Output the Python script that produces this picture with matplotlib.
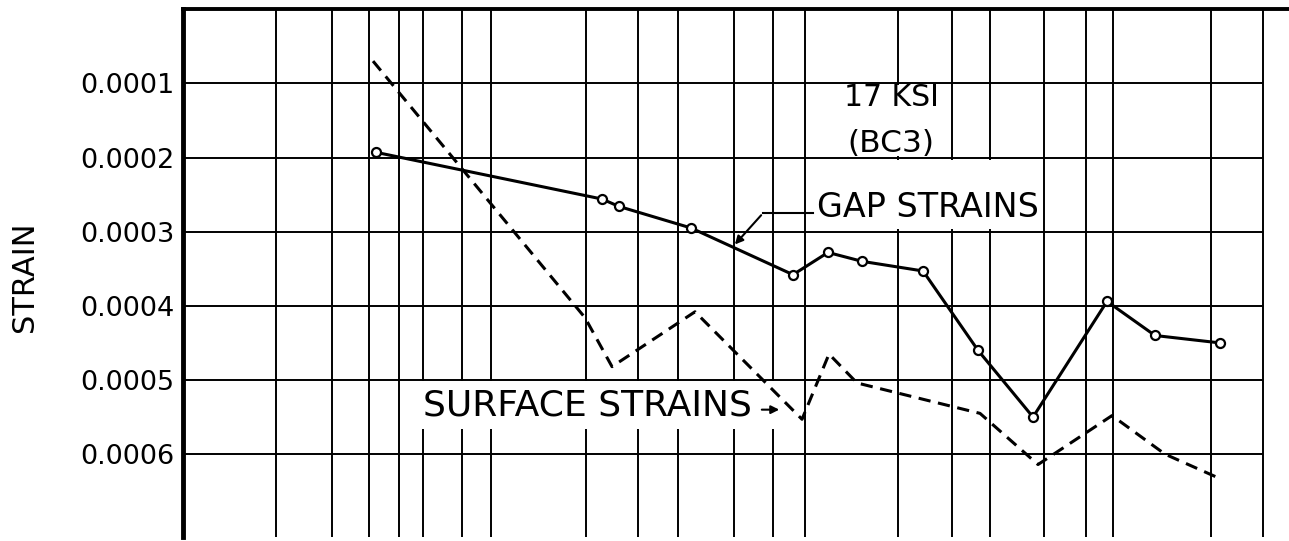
import matplotlib.pyplot as plt
from matplotlib.patches import Rectangle

plt.rcParams['font.family'] = ['DejaVu Sans']

# data (x in arbitrary station units, y = strain)
gap_x = [19.3, 41.9, 43.6, 50.8, 61.0, 64.5, 67.9, 74.0, 79.5, 85.0, 92.4, 97.2, 103.7]
gap_strain = [0.000193, 0.000256, 0.000266, 0.000295, 0.000358, 0.000328, 0.000340,
              0.000353, 0.000460, 0.000550, 0.000394, 0.000440, 0.000450]

surf_x = [19.0, 40.2, 42.9, 51.2, 61.9, 64.6, 67.4, 79.7, 85.5, 92.9, 98.2, 103.7]
surf_strain = [0.000070, 0.000416, 0.000482, 0.000408, 0.000553, 0.000465, 0.000504,
               0.000545, 0.000614, 0.000548, 0.000600, 0.000633]

strain_ticks = [0.0001, 0.0002, 0.0003, 0.0004, 0.0005, 0.0006]
tick_labels = ['0.0001', '0.0002', '0.0003', '0.0004', '0.0005', '0.0006']

# irregular vertical rulings of the original sheet
grid_x = [9.3, 14.9, 18.6, 21.6, 24.0, 27.9, 30.8, 40.3, 45.5, 49.5, 55.1, 59.0,
          62.2, 71.5, 76.9, 80.7, 86.1, 90.3, 93.0, 102.8, 108.0]

fig = plt.figure(figsize=(12.89, 5.41), dpi=100)
ax = fig.add_axes([0.142, 0.007, 0.858, 0.976])
ax.set_xlim(0, 110.6)
ax.set_ylim(0.000712, 0.0)

ax.vlines(grid_x, 0, 0.000712, color='black', lw=1.4, zorder=1)
ax.hlines(strain_ticks, 0, grid_x[-1], color='black', lw=1.4, zorder=1)

# blank patches where the labels were lettered over the grid
for (x0, y0, w, h) in [(62.35, 0.000102, 14.35, 0.000096),
                       (62.35, 0.000204, 23.55, 0.000093),
                       (22.9, 0.000502, 37.8, 0.000064)]:
    ax.add_patch(Rectangle((x0, y0), w, h, facecolor='white', edgecolor='none', zorder=2))

ax.plot(surf_x, surf_strain, color='black', lw=2.2, linestyle=(0, (4, 2.5)), zorder=3)
ax.plot(gap_x, gap_strain, color='black', lw=2.2, marker='o', markersize=6.5,
        markerfacecolor='white', markeredgewidth=1.6, zorder=4)

# labels and leaders
ax.text(70.8, 0.000119, '17 KSI', fontsize=21.5, ha='center', va='center', zorder=5)
ax.text(70.8, 0.000181, '(BC3)', fontsize=22.5, ha='center', va='center', zorder=5)

ax.text(63.4, 0.000268, 'GAP STRAINS', fontsize=24, ha='left', va='center', zorder=5)
ax.plot([58.0, 63.0], [0.000275, 0.000275], color='black', lw=1.5, zorder=5)
ax.annotate('', xy=(55.0, 0.00032), xytext=(58.0, 0.000275),
            arrowprops=dict(arrowstyle='-|>', color='black', lw=1.5, mutation_scale=12),
            zorder=5)

ax.text(24.0, 0.000534, 'SURFACE STRAINS', fontsize=26, ha='left', va='center', zorder=5)
ax.annotate('', xy=(59.9, 0.00054), xytext=(57.6, 0.00054),
            arrowprops=dict(arrowstyle='-|>', color='black', lw=1.5, mutation_scale=12),
            zorder=5)

ax.set_yticks(strain_ticks, tick_labels)
ax.set_xticks([])
ax.tick_params(axis='y', length=0, pad=6, labelsize=19.5)

ax.spines['right'].set_visible(False)
ax.spines['bottom'].set_visible(False)
ax.spines['left'].set_linewidth(3.5)
ax.spines['top'].set_linewidth(2.8)

fig.text(25 / 1289, 0.488, 'STRAIN', rotation=90, ha='center', va='center', fontsize=22)

fig.savefig('out.png', dpi=100)
